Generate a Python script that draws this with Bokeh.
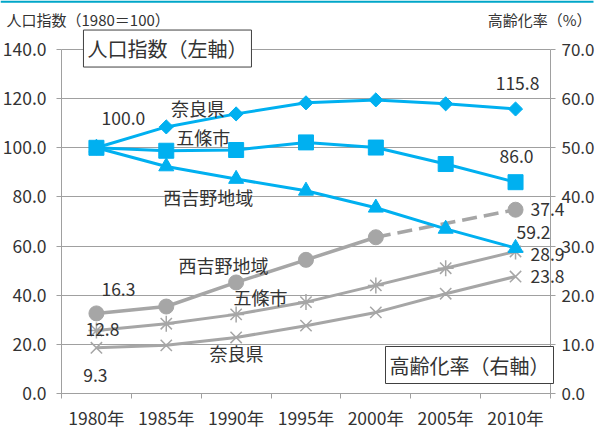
import math
from bokeh.plotting import figure
from bokeh.models import (Range1d, LinearAxis, FixedTicker, PrintfTickFormatter,
                          Label, BoxAnnotation, ColumnDataSource)
from bokeh.embed import file_html
from bokeh.resources import INLINE

# ---- data ----
years = ["1980年", "1985年", "1990年", "1995年", "2000年", "2005年", "2010年"]
pop_nara = [100.0, 108.5, 113.8, 118.3, 119.5, 117.9, 115.8]
pop_gojo = [100.0, 98.8, 99.1, 102.2, 100.1, 93.4, 86.0]
pop_nishi = [100.0, 92.4, 87.3, 82.5, 75.6, 67.0, 59.2]
age_nishi = [16.3, 17.7, 22.6, 27.2, 31.8, float("nan"), 37.4]
age_gojo = [12.8, 14.2, 16.1, 18.6, 22.0, 25.5, 28.9]
age_nara = [9.3, 9.8, 11.4, 13.8, 16.5, 20.3, 23.8]
left_ticks = [0, 20, 40, 60, 80, 100, 120, 140]
right_ticks = [0, 10, 20, 30, 40, 50, 60, 70]

n = len(years)
xs = [i + 0.5 for i in range(n)]

FONT = "Noto Sans CJK JP"
BLUE = "#00B0F0"
GRAY = "#A6A6A6"
AX = "#A0A0A0"
TXT = "#333333"
TICK_FS = "17.5px"

W, H = 596, 429
# the frame covers the whole canvas; the chart area is x 0..7, y 0..140
p = figure(width=W, height=H, x_range=Range1d(-0.8732, 7.659),
           y_range=Range1d(-14.65, 159.95), output_backend="svg", toolbar_location=None,
           min_border=0)
p.extra_y_ranges = {"right": Range1d(-7.326, 79.976)}
p.outline_line_color = None
p.background_fill_color = "white"
p.border_fill_color = "white"
p.xgrid.visible = False
p.ygrid.ticker = FixedTicker(ticks=left_ticks)
p.ygrid.grid_line_color = AX
p.ygrid.grid_line_width = 1
p.ygrid.bounds = (0, 140)
p.ygrid.cross_bounds = (0, n)

# x axis
xa = p.xaxis[0]
xa.fixed_location = 0
xa.bounds = (0, n)
xa.ticker = FixedTicker(ticks=xs, minor_ticks=list(range(n + 1)))
xa.major_label_overrides = {x: y for x, y in zip(xs, years)}
xa.major_tick_in = 0
xa.major_tick_out = 0
xa.minor_tick_in = 0
xa.minor_tick_out = 5
xa.minor_tick_line_color = AX
xa.axis_line_color = AX
xa.major_label_text_font = FONT
xa.major_label_text_font_size = TICK_FS
xa.major_label_text_color = TXT
xa.major_label_standoff = 6

# left axis
ya = p.yaxis[0]
ya.fixed_location = 0
ya.bounds = (0, 140)
ya.ticker = FixedTicker(ticks=left_ticks)
ya.formatter = PrintfTickFormatter(format="%.1f")
ya.major_tick_in = 0
ya.major_tick_out = 5
ya.minor_tick_line_color = None
ya.axis_line_color = AX
ya.major_tick_line_color = AX
ya.major_label_text_font = FONT
ya.major_label_text_font_size = TICK_FS
ya.major_label_text_color = TXT
ya.major_label_standoff = 10

# right axis
ra = LinearAxis(y_range_name="right")
ra.fixed_location = n
ra.bounds = (0, 70)
ra.ticker = FixedTicker(ticks=right_ticks)
ra.formatter = PrintfTickFormatter(format="%.1f")
ra.major_tick_in = 0
ra.major_tick_out = 5
ra.minor_tick_line_color = None
ra.axis_line_color = AX
ra.major_tick_line_color = AX
ra.major_label_text_font = FONT
ra.major_label_text_font_size = "17px"
ra.major_label_text_color = TXT
ra.major_label_standoff = 6
p.add_layout(ra, "right")

# ---- aging (right axis, gray) ----
p.line(xs[:5], age_nishi[:5], y_range_name="right", line_color=GRAY, line_width=3.5)
p.line([xs[4], xs[6]], [age_nishi[4], age_nishi[6]], y_range_name="right",
       line_color=GRAY, line_width=3.5, line_dash="15 7")
src_n = ColumnDataSource(dict(x=[x for x, v in zip(xs, age_nishi) if not math.isnan(v)],
                              y=[v for v in age_nishi if not math.isnan(v)]))
p.scatter("x", "y", source=src_n, y_range_name="right", marker="circle", size=15,
          fill_color=GRAY, line_color=GRAY)

p.line(xs, age_gojo, y_range_name="right", line_color=GRAY, line_width=3)
p.scatter(xs, age_gojo, y_range_name="right", marker="asterisk", size=16,
          line_color=GRAY, line_width=1.5)
p.line(xs, age_nara, y_range_name="right", line_color=GRAY, line_width=3)
p.scatter(xs, age_nara, y_range_name="right", marker="x", size=16,
          line_color=GRAY, line_width=1.5)

# ---- population index (left axis, blue) ----
p.line(xs, pop_nara, line_color=BLUE, line_width=3)
p.scatter(xs, pop_nara, marker="square", angle=math.pi / 4, size=10,
          fill_color=BLUE, line_color=BLUE)
p.line(xs, pop_gojo, line_color=BLUE, line_width=3)
p.scatter(xs, pop_gojo, marker="square", size=15, fill_color=BLUE, line_color=BLUE)
p.line(xs, pop_nishi, line_color=BLUE, line_width=3)
p.scatter(xs, pop_nishi, marker="triangle", size=15, fill_color=BLUE, line_color=BLUE)


def lab(x, y, text, dx=0, dy=0, size="17.5px", align="center", rng="default", **kw):
    p.add_layout(Label(x=x, y=y, text=text, x_offset=dx, y_offset=dy,
                       y_range_name=rng, text_font=FONT, text_font_size=size,
                       text_color=TXT, text_align=align, text_baseline="middle", **kw))


# value labels
lab(xs[0], pop_nara[0], f"{pop_nara[0]:.1f}", dx=27, dy=29)
lab(xs[6], pop_nara[6], f"{pop_nara[6]:.1f}", dx=2, dy=25)
lab(xs[6], pop_gojo[6], f"{pop_gojo[6]:.1f}", dx=1, dy=26)
lab(xs[6], pop_nishi[6], f"{pop_nishi[6]:.1f}", dx=18, dy=16)
lab(xs[6], age_nishi[6], f"{age_nishi[6]:.1f}", dx=15, dy=0, align="left", rng="right")
lab(xs[6], age_gojo[6], f"{age_gojo[6]:.1f}", dx=15, dy=-3, align="left", rng="right")
lab(xs[6], age_nara[6], f"{age_nara[6]:.1f}", dx=15, dy=0, align="left", rng="right")
lab(xs[0], age_nishi[0], f"{age_nishi[0]:.1f}", dx=22, dy=24, rng="right")
lab(xs[0], age_gojo[0], f"{age_gojo[0]:.1f}", dx=6, dy=1, rng="right")
lab(xs[0], age_nara[0], f"{age_nara[0]:.1f}", dx=-1, dy=-28, rng="right")

# series names
lab(1.954, 116.0, "奈良県", size="18px")
lab(2.03, 104.2, "五條市", size="18px")
lab(2.10, 79.8, "西吉野地域", size="18px")
lab(2.32, 52.1, "西吉野地域", size="18px")
lab(2.85, 39.1, "五條市", size="18px")
lab(2.505, 16.3, "奈良県", size="18px")

# boxed axis captions
lab(1.517, 140.4, "人口指数（左軸）", size="20px", background_fill_color="white",
    border_line_color="#404040", border_line_width=1, padding=4)
lab(5.841, 11.6, "高齢化率（右軸）", size="20px", background_fill_color="white",
    border_line_color="#404040", border_line_width=1, padding=4)

# axis titles
lab(-0.787, 152.2, "人口指数（1980＝100）", size="15px", align="left")
lab(7.587, 152.2, "高齢化率（%）", size="15px", align="right")

# top rule
p.add_layout(BoxAnnotation(bottom=159.95 - 0.9, top=159.95, right=7.616,
                           fill_color="#00A6C8", fill_alpha=1, line_color=None))

open("out.html", "w").write(file_html(p, INLINE))
